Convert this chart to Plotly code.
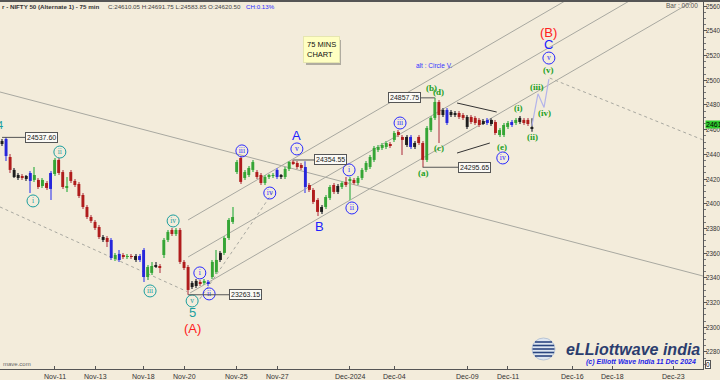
import plotly.graph_objects as go

# ---------------- data (75-min bars, NIFTY 50) ----------------
opens = [24484, 24525, 24379, 24217, 24209, 24225, 24201, 24249, 24193, 24193, 24144, 24168, 24249,
         24241, 24355, 24257, 24128, 24257, 24185, 24160, 24071, 23974, 23893, 23853, 23812, 23707,
         23723, 23707, 23553, 23594, 23585, 23569, 23577, 23545, 23577, 23626, 23407, 23440, 23496,
         23496, 23585, 23707, 23788, 23755, 23788, 23529, 23488, 23326, 23334, 23367, 23359, 23367,
         23407, 23448, 23545, 23602, 23723, 23853, 24257, 24371, 24209, 24233, 24274, 24257, 24233,
         24168, 24217, 24225, 24274, 24217, 24217, 24282, 24340, 24330, 24314, 24298, 24152, 24112,
         24031, 23934, 23974, 24047, 24152, 24096, 24136, 24177, 24185, 24193, 24168, 24209, 24274,
         24298, 24355, 24436, 24452, 24460, 24484, 24517, 24581, 24541, 24476, 24541, 24460, 24541,
         24492, 24355, 24597, 24695, 24824, 24719, 24760, 24719, 24719, 24735, 24719, 24622, 24703,
         24695, 24679, 24654, 24679, 24646, 24662, 24557, 24557, 24622, 24662, 24654, 24662, 24679,
         24679, 24620.50]
highs = [24525, 24541, 24403, 24290, 24249, 24241, 24233, 24266, 24298, 24209, 24209, 24185, 24266,
         24371, 24371, 24274, 24217, 24274, 24201, 24177, 24087, 23990, 23909, 23869, 23828, 23747,
         23739, 23723, 23602, 23626, 23602, 23594, 23594, 23594, 23594, 23642, 23504, 23529, 23529,
         23512, 23723, 23788, 23804, 23804, 23804, 23545, 23504, 23375, 23391, 23383, 23391, 23383,
         23545, 23626, 23618, 23739, 23885, 23974, 24355, 24387, 24274, 24306, 24355, 24274, 24249,
         24233, 24241, 24249, 24290, 24241, 24298, 24345, 24354.55, 24346, 24330, 24345, 24168, 24128,
         24047, 23990, 24071, 24152, 24168, 24160, 24185, 24217, 24217, 24209, 24225, 24290, 24346,
         24395, 24468, 24476, 24492, 24508, 24500, 24589, 24597, 24557, 24557, 24557, 24508, 24557,
         24508, 24630, 24711, 24857.75, 24840, 24776, 24776, 24760, 24751, 24751, 24735, 24719, 24719,
         24711, 24695, 24687, 24695, 24695, 24679, 24614, 24654, 24670, 24679, 24695, 24711, 24695,
         24695, 24691.75]
lows = [24468, 24346, 24249, 24209, 24193, 24193, 24185, 24087, 24177, 24120, 24128, 24112, 24031,
        24225, 24233, 24120, 24096, 24168, 24136, 24047, 23958, 23877, 23845, 23788, 23715, 23691,
        23650, 23545, 23537, 23529, 23553, 23553, 23553, 23529, 23529, 23367, 23383, 23423, 23480,
        23440, 23561, 23691, 23739, 23739, 23512, 23464, 23263.15, 23310, 23318, 23334, 23342, 23334,
        23391, 23432, 23529, 23585, 23707, 23836, 24241, 24160, 24193, 24217, 24257, 24201, 24152,
        24152, 24201, 24209, 24201, 24201, 24201, 24266, 24314, 24282, 24274, 24087, 24096, 23998,
        23901, 23917, 23958, 24031, 24079, 24079, 24120, 24136, 24031, 24152, 24152, 24193, 24257,
        24282, 24338, 24419, 24436, 24444, 24452, 24500, 24541, 24395, 24460, 24444, 24444, 24476,
        24295.65, 24338, 24581, 24679, 24492, 24703, 24638, 24703, 24703, 24687, 24679, 24606, 24646,
        24638, 24622, 24638, 24638, 24630, 24557, 24541, 24541, 24606, 24622, 24638, 24646, 24638,
        24630, 24583.85]
closes = [24508, 24387, 24274, 24274, 24233, 24209, 24225, 24185, 24233, 24136, 24193, 24128, 24120,
          24355, 24249, 24136, 24144, 24185, 24152, 24063, 23974, 23893, 23861, 23804, 23731, 23731,
          23691, 23561, 23585, 23545, 23569, 23577, 23569, 23577, 23545, 23407, 23488, 23496, 23504,
          23480, 23707, 23772, 23755, 23788, 23529, 23480, 23302, 23359, 23375, 23351, 23375, 23351,
          23529, 23545, 23602, 23723, 23869, 23893, 24338, 24177, 24257, 24290, 24338, 24217, 24168,
          24217, 24225, 24233, 24217, 24225, 24282, 24340, 24330, 24298, 24290, 24136, 24112, 24015,
          23934, 23974, 24055, 24136, 24096, 24144, 24168, 24152, 24201, 24168, 24209, 24274, 24330,
          24379, 24452, 24460, 24476, 24492, 24468, 24573, 24557, 24517, 24541, 24460, 24492, 24492,
          24355, 24614, 24695, 24824, 24719, 24760, 24654, 24743, 24735, 24703, 24695, 24703, 24662,
          24654, 24638, 24670, 24654, 24679, 24573, 24597, 24638, 24654, 24638, 24679, 24695, 24654,
          24646, 24610.05]
bar_colors = list("kbrkkrkbgrgrbgrrgrrrrrrrrkrbgbrgrkbbggkrggrgrrrkkrgbggkggggrggg"
                  "rrgggbkggrrrbrrrkggrkgrgrggggggggrgrrkbkrrgggrkbkkrrkrrrkbkrgggbgkrrk")

x_tick_pos = [13, 23, 35, 45, 58, 68, 86, 97, 115, 125, 141, 151, 166]
x_tick_text = ["Nov-11", "Nov-13", "Nov-18", "Nov-20", "Nov-25", "Nov-27", "Dec-2024",
               "Dec-04", "Dec-09", "Dec-11", "Dec-16", "Dec-18", "Dec-23"]
y_tick_vals = list(range(22800, 25601, 200))

# Elliott wave labels (bar index, price)
cyan_circ_text = ["i", "ii", "iii", "iv", "v"]
cyan_circ_x = [7.66, 14.3, 36.6, 42.3, 47.0]
cyan_circ_y = [24023, 24419, 23294, 23861, 23213]

blue_circ_text = ["i", "ii", "iii", "iv", "v", "i", "ii", "iii", "iv", "v"]
blue_circ_x = [48.9, 51.2, 59.3, 66.2, 72.9, 85.8, 86.5, 98.4, 123.8, 135.2]
blue_circ_y = [23440, 23270, 24428, 24087, 24444, 24274, 23966, 24654, 24371, 25180]

green_text = ["(a)", "(b)", "(c)", "(d)", "(e)", "(i)", "(ii)", "(iii)", "(iv)", "(v)"]
green_x = [104.1, 106.3, 108.0, 107.9, 123.6, 127.8, 131.2, 132.2, 134.2, 135.2]
green_y = [24249, 24938, 24452, 24906, 24460, 24776, 24541, 24946, 24735, 25083]

big_text = ["5", "(A)", "A", "B", "C", "(B)"]
big_x = [47.0, 47.0, 72.7, 78.6, 135.2, 135.2]
big_y = [23116, 22994, 24549, 23812, 25286, 25391]
big_color = ["#1a9e9e", "#ff2020", "#2020ff", "#2020ff", "#2020ff", "#ff2020"]

value_labels = ["24537.60", "24354.55", "24857.75", "24295.65", "23263.15"]
value_x = [0, 72, 107, 104, 46]
value_y = [24537.60, 24354.55, 24857.75, 24295.65, 23263.15]
value_dx = [39, 37, -30, 52, 57]

proj_x = [131, 132.5, 134.0, 135.2]
proj_y = [24630, 24890, 24780, 25010]

# ---------------- figure ----------------
BG = "#F3ECDB"
PW, PH_TOP, PH_BOT = 703.0, 1.0, 369.0
body_col = {"g": "#35a535", "r": "#b01c1c", "b": "#2626dc", "k": "#1e1e1e"}
wick_col = {"g": "#82c882", "r": "#cf8a8a", "b": "#8a8ae6", "k": "#7a7a7a"}
idx = list(range(len(opens)))

fig = go.Figure()
fig.add_trace(go.Bar(
    x=idx, y=[h - l for h, l in zip(highs, lows)], base=lows, width=0.25,
    marker=dict(color=[wick_col[c] for c in bar_colors], line=dict(width=0)),
    hoverinfo="skip", showlegend=False))
fig.add_trace(go.Bar(
    x=idx, y=[abs(c - o) for o, c in zip(opens, closes)],
    base=[min(o, c) for o, c in zip(opens, closes)], width=0.72,
    marker=dict(color=[body_col[c] for c in bar_colors], line=dict(width=0)),
    hoverinfo="skip", showlegend=False))

# projection path
fig.add_trace(go.Scatter(x=proj_x, y=proj_y, mode="lines",
                         line=dict(color="#b4b4ea", width=1.2), hoverinfo="skip", showlegend=False))

def circ_trace(xs, ys, texts, col):
    return go.Scatter(x=xs, y=ys, mode="markers+text", text=texts, textposition="middle center",
                      textfont=dict(family="Liberation Serif", size=7.5, color=col),
                      marker=dict(symbol="circle", size=12, color="rgba(0,0,0,0)",
                                  line=dict(color=col, width=1)),
                      hoverinfo="skip", showlegend=False, cliponaxis=False)

fig.add_trace(circ_trace(cyan_circ_x, cyan_circ_y, cyan_circ_text, "#1a9e9e"))
fig.add_trace(circ_trace(blue_circ_x, blue_circ_y, blue_circ_text, "#2a2aff"))

annotations = []
for t, x, y in zip(green_text, green_x, green_y):
    annotations.append(dict(x=x, y=y, xref="x", yref="y", text="<b>" + t + "</b>", showarrow=False,
                            font=dict(family="Liberation Serif", size=9, color="#22a022")))
for t, x, y, c in zip(big_text, big_x, big_y, big_color):
    annotations.append(dict(x=x, y=y, xref="x", yref="y", text=t, showarrow=False,
                            font=dict(family="Liberation Sans", size=13, color=c)))
for t, x, y, dx in zip(value_labels, value_x, value_y, value_dx):
    annotations.append(dict(x=x, y=y, xref="x", yref="y", text=t, showarrow=True, arrowhead=0,
                            arrowwidth=1, arrowcolor="#555555", ax=dx, ay=0, standoff=0,
                            bgcolor="#fbfaf6", bordercolor="#555555", borderwidth=1, borderpad=1,
                            font=dict(family="Liberation Sans", size=7, color="#222222")))

def px2paper(px, py):
    return px / PW, 1 - (py - PH_TOP) / (PH_BOT - PH_TOP)

def add_text(px, py, text, size, color, xanchor="center", family="Liberation Sans", **kw):
    x, y = px2paper(px, py)
    d = dict(x=x, y=y, xref="paper", yref="paper", text=text, showarrow=False, xanchor=xanchor,
             yanchor="middle", font=dict(family=family, size=size, color=color))
    d.update(kw)
    annotations.append(d)

# axis tick labels
for v in y_tick_vals:
    annotations.append(dict(x=1.0, y=v, xref="paper", yref="y", text=str(v), showarrow=False,
                            xanchor="left", yanchor="middle", xshift=2, borderpad=0,
                            font=dict(family="Liberation Sans", size=6.3, color="#333333")))
for p, t in zip(x_tick_pos, x_tick_text):
    annotations.append(dict(x=p, y=px2paper(0, 376)[1], xref="x", yref="paper", text=t,
                            showarrow=False, xanchor="center", yanchor="middle",
                            font=dict(family="Liberation Sans", size=7, color="#333333")))

add_text(0, 125, "4", 11, "#1a9e9e")
add_text(0, 6, "<b>r - NIFTY 50 (Alternate 1) - 75 min</b>", 6.2, "#333333", xanchor="left")
add_text(106, 6, "C:24610.05 H:24691.75 L:24583.85 O:24620.50", 6.2, "#444444", xanchor="left")
add_text(244, 6, "CH:0.13%", 6.2, "#2a2aff", xanchor="left")
add_text(700, 5, "Bar : 00:00", 6.5, "#555555", xanchor="right")
add_text(321, 50, "75 MINS<br>CHART", 7.5, "#111111", align="left", bgcolor="#ffffc2",
         bordercolor="#e6e6b0", borderwidth=1, borderpad=3)
add_text(434, 66, "alt : Circle V.", 6.5, "#3333ff")
add_text(633, 349, "<b><i>eLLiottwave india</i></b>", 16, "#2b3d6e")
add_text(698, 362, "<b><i>(c) Elliott Wave India 11 Dec 2024</i></b>", 7, "#1e1ee8", xanchor="right")
add_text(1, 364, "mave.com", 6, "#666666", xanchor="left")
annotations.append(dict(x=1.0, y=24610.05, xref="paper", yref="y", text="24610", showarrow=False,
                        xanchor="left", yanchor="middle", bgcolor="#2ecc2e", borderpad=0, xshift=2,
                        yshift=4, font=dict(family="Liberation Sans", size=7, color="#000000")))
annotations.append(dict(x=1.0, y=px2paper(0, 364)[1], xref="paper", yref="paper", text="0",
                        showarrow=False, xanchor="left", yanchor="middle", bgcolor="#ffffff",
                        bordercolor="#555555", borderwidth=1, borderpad=0, xshift=2,
                        font=dict(family="Liberation Sans", size=6.5, color="#000000")))

shapes = []
def seg(x0, y0, x1, y1, color="#a8a8a0", dash="solid", width=1):
    shapes.append(dict(type="line", xref="x", yref="y", x0=x0, y0=y0, x1=x1, y1=y1,
                       line=dict(color=color, width=width, dash=dash), layer="below"))

# channel lines
seg(46.0, 23869, 139.6, 25650)
seg(46.0, 23569, 155.5, 25650)
seg(46.5, 23278, 171.3, 25650)
# long falling lines
seg(-0.5, 24905, 173.3, 23415)
seg(-0.5, 23974, 46.5, 23278, dash="dot")
seg(135.4, 25018, 173.3, 24517, dash="dot")
seg(48.9, 23230, 67.0, 24095, dash="dot")
# triangle
seg(112.5, 24816, 122.3, 24743, color="#333333")
seg(112.5, 24411, 120.6, 24492, color="#333333")

# shadow of the yellow note
x0, y0 = px2paper(306, 40)
x1, y1 = px2paper(341, 65)
shapes.append(dict(type="rect", xref="paper", yref="paper", x0=x0, x1=x1, y0=y1, y1=y0,
                   fillcolor="#b0aca0", line=dict(width=0), layer="below"))
# top border
shapes.append(dict(type="line", xref="paper", yref="paper", x0=0, x1=1.03, y0=1, y1=1,
                   line=dict(color="#555555", width=2)))
# globe logo
gx, gy = px2paper(543.5, 349)
shapes.append(dict(type="circle", xref="paper", yref="paper", xsizemode="pixel", ysizemode="pixel",
                   xanchor=gx, yanchor=gy, x0=-11.5, x1=11.5, y0=-11, y1=11,
                   fillcolor="#dfe7f1", line=dict(color="#b8c4d4", width=1)))
for dy, hw in [(-7, 8.5), (-3.5, 10.6), (0, 11), (3.5, 10.6), (7, 8.5)]:
    shapes.append(dict(type="line", xref="paper", yref="paper", xsizemode="pixel", ysizemode="pixel",
                       xanchor=gx, yanchor=gy, x0=-hw, x1=hw, y0=dy, y1=dy,
                       line=dict(color="#2b4680", width=1.6)))

fig.update_layout(
    width=720, height=380, margin=dict(l=0, r=17, t=1, b=11, autoexpand=False),
    paper_bgcolor=BG, plot_bgcolor=BG, barmode="overlay", showlegend=False,
    annotations=annotations, shapes=shapes,
    xaxis=dict(range=[-0.5, 173.3], tickvals=x_tick_pos, showticklabels=False, showgrid=False,
               zeroline=False, showline=True, linecolor="#555555", ticks="inside", ticklen=3,
               tickcolor="#555555", automargin=False),
    yaxis=dict(range=[22662, 25642], side="right", tickvals=y_tick_vals, showticklabels=False,
               showgrid=False, zeroline=False, showline=True, linecolor="#555555", ticks="outside",
               ticklen=3, tickcolor="#555555", automargin=False,
               minor=dict(ticks="outside", ticklen=2, dtick=50, tickcolor="#777777")),
)

fig.write_html("out.html", config={"displayModeBar": False},
               post_script="document.body.style.margin='0';document.body.style.padding='0';"
                           "document.body.style.background='" + BG + "';")
